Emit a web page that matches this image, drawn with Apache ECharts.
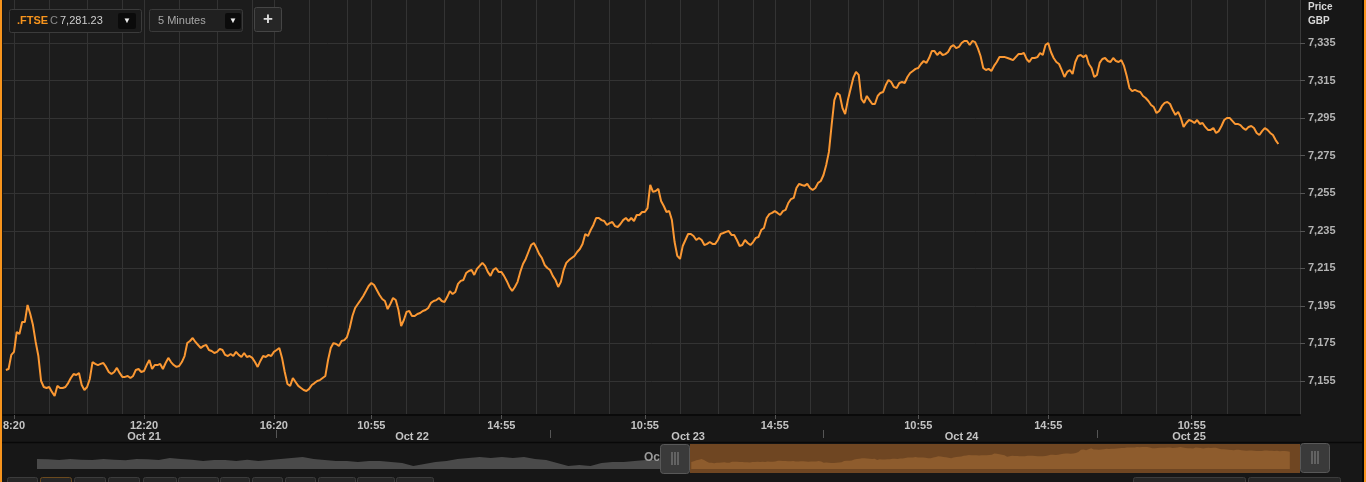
<!DOCTYPE html>
<html><head><meta charset="utf-8">
<script src="https://cdn.jsdelivr.net/npm/echarts@6/dist/echarts.min.js"></script>
<style>html,body{margin:0;padding:0;background:#171717;}#c{width:1366px;height:482px;}</style>
</head><body><div id="c"></div><script>
// ---------- data ----------
const days = ['Oct 21', 'Oct 22', 'Oct 23', 'Oct 24', 'Oct 25'];
const sessionOpen = '08:00';
const sessionClose = '16:20';
const lastDayAxisEnd = '14:15';
const firstBar = 'Oct 21 08:05';
// FTSE 100, 5-minute closes from Oct 21 08:05 to Oct 25 13:35
const prices = [
7160.9,7161.4,7168.9,7170.5,7181.1,7180.0,7186.4,7186.4,7195.5,7190.7,
7184.8,7175.8,7168.3,7155.0,7151.8,7151.3,7151.8,7149.2,7147.0,7152.4,
7151.3,7151.3,7151.8,7153.9,7156.6,7158.7,7158.2,7159.3,7152.9,7150.2,
7151.8,7156.1,7165.1,7164.1,7163.5,7164.1,7164.6,7162.5,7159.8,7158.7,
7159.8,7162.0,7159.3,7157.2,7157.2,7157.7,7156.6,7157.7,7160.9,7161.4,
7159.8,7160.3,7163.5,7166.2,7161.4,7163.5,7163.5,7164.1,7161.4,7164.6,
7167.3,7165.1,7163.5,7162.5,7163.0,7165.1,7168.3,7175.2,7176.3,7177.9,
7175.8,7174.2,7172.6,7173.7,7174.2,7171.5,7171.0,7169.9,7170.5,7172.1,
7171.5,7168.9,7168.3,7169.4,7168.3,7170.5,7168.9,7167.8,7169.9,7167.8,
7168.3,7167.3,7165.1,7162.5,7165.7,7168.3,7167.8,7168.9,7168.3,7170.5,
7171.5,7172.6,7167.3,7159.8,7153.4,7152.4,7156.6,7154.5,7152.4,7151.3,
7150.2,7149.7,7150.8,7152.9,7153.9,7155.0,7155.5,7156.6,7157.7,7166.2,
7172.6,7175.2,7174.7,7173.7,7176.3,7176.8,7178.4,7183.2,7189.6,7193.9,
7196.0,7198.1,7200.3,7202.9,7205.6,7207.2,7206.1,7203.5,7200.8,7198.7,
7197.6,7193.3,7196.0,7199.2,7198.1,7192.8,7184.3,7187.5,7191.8,7192.3,
7189.6,7189.6,7190.7,7191.2,7192.3,7192.8,7193.9,7196.6,7197.6,7198.1,
7199.2,7197.6,7197.1,7199.7,7202.9,7201.3,7202.4,7206.7,7208.3,7208.8,
7212.5,7213.6,7214.1,7211.5,7214.7,7216.3,7217.9,7216.3,7213.1,7211.0,
7214.1,7215.2,7213.1,7213.1,7211.0,7208.3,7205.1,7202.9,7205.1,7207.8,
7213.1,7217.3,7220.0,7223.7,7227.4,7228.5,7225.8,7222.6,7220.5,7216.8,
7215.2,7214.1,7211.0,7208.8,7205.1,7207.8,7214.1,7217.9,7219.4,7220.5,
7221.6,7223.7,7225.3,7228.0,7233.3,7232.2,7235.4,7238.1,7241.8,7241.8,
7240.7,7240.2,7238.1,7239.1,7239.7,7237.5,7237.0,7238.6,7240.7,7241.8,
7240.2,7241.8,7240.2,7243.4,7243.4,7245.0,7245.0,7247.1,7259.4,7255.7,
7256.2,7257.3,7250.9,7248.2,7245.0,7245.5,7240.7,7229.0,7221.6,7220.0,
7226.9,7230.1,7233.3,7233.3,7232.2,7230.1,7231.2,7230.1,7227.4,7228.0,
7229.0,7228.0,7228.0,7230.1,7233.3,7233.8,7234.4,7234.9,7232.8,7232.8,
7230.1,7226.9,7227.4,7230.1,7228.5,7227.4,7229.0,7231.2,7231.7,7235.4,
7236.5,7241.8,7243.9,7244.5,7245.5,7244.5,7243.4,7245.5,7246.1,7249.8,
7251.9,7252.5,7257.8,7260.0,7259.4,7258.9,7260.0,7257.8,7256.7,7257.8,
7260.5,7261.5,7264.7,7270.0,7277.0,7291.3,7304.6,7308.4,7307.3,7300.4,
7297.2,7304.6,7310.5,7316.4,7319.6,7318.0,7305.2,7303.1,7306.8,7304.6,
7302.5,7302.5,7306.8,7308.4,7308.9,7312.6,7315.3,7314.2,7311.6,7311.0,
7313.7,7314.2,7313.7,7316.9,7319.0,7320.1,7321.2,7321.7,7323.8,7325.4,
7324.4,7327.0,7330.7,7330.7,7328.6,7330.2,7328.6,7329.1,7330.2,7332.9,
7333.9,7332.3,7332.9,7335.0,7336.1,7336.1,7333.9,7336.1,7335.5,7332.3,
7328.1,7321.7,7320.6,7321.2,7320.1,7322.8,7324.9,7327.5,7327.5,7327.5,
7327.0,7326.5,7325.9,7327.5,7329.1,7329.1,7329.7,7326.5,7324.9,7327.0,
7327.0,7327.5,7329.7,7328.6,7333.9,7335.0,7330.2,7327.0,7324.9,7323.8,
7320.6,7316.9,7319.6,7320.6,7318.5,7324.9,7328.1,7328.6,7327.5,7328.6,
7323.8,7321.7,7316.9,7318.0,7324.4,7326.5,7327.0,7325.4,7324.9,7327.0,
7325.4,7324.9,7325.9,7322.8,7317.4,7311.0,7309.4,7310.0,7309.4,7308.9,
7306.8,7305.7,7304.1,7302.0,7300.9,7297.7,7298.8,7301.5,7303.1,7303.6,
7302.5,7299.3,7296.7,7298.3,7295.1,7290.3,7292.4,7294.0,7293.5,7292.4,
7294.0,7291.9,7292.4,7290.3,7288.7,7288.7,7289.7,7287.1,7288.1,7290.8,
7294.0,7295.1,7295.1,7293.5,7291.9,7291.9,7291.3,7289.7,7288.7,7290.3,
7290.8,7289.7,7287.1,7286.0,7288.1,7289.7,7288.7,7287.1,7286.0,7283.3,7281.23
];
const lastPrice = 7281.23;
const yTicks = [7155, 7175, 7195, 7215, 7235, 7255, 7275, 7295, 7315, 7335];
const timeLabels = ['Oct 21 08:20', 'Oct 21 12:20', 'Oct 21 16:20', 'Oct 22 10:55', 'Oct 22 14:55',
                    'Oct 23 10:55', 'Oct 23 14:55', 'Oct 24 10:55', 'Oct 24 14:55', 'Oct 25 10:55'];
const dateLabels = ['Oct 21 12:20', 'Oct 22 12:10', 'Oct 23 12:15', 'Oct 24 12:15', 'Oct 25 10:50'];
const dayStarts = ['Oct 22 08:00', 'Oct 23 08:00', 'Oct 24 08:00', 'Oct 25 08:00'];
// navigator: earlier history (coarse closes) shown before the selected window
const navHistory = [
7196,7193,7184,7197,7186,7183,7195,7186,7182,7197,7194,7185,7208,7196,7186,7173,7185,7183,7172,7186,
7174,7185,7196,7208,7219,7197,7185,7174,7172,7161,7174,7172,7160,7150,7115,7138,7161,7174,7196,7208,
7219,7207,7220,7209,7218,7196,7184,7150,7115,7126,7114,7150,7161,7162,7173,7184,7185,7196,7184,7173
];

// ---------- helpers ----------
function toMin(t) { const p = t.split(':'); return (+p[0]) * 60 + (+p[1]); }
function hhmm(m) { return String(Math.floor(m / 60)).padStart(2, '0') + ':' + String(m % 60).padStart(2, '0'); }
function comma(v, d) { const s = d ? v.toFixed(d) : String(v); const p = s.split('.'); p[0] = p[0].replace(/\B(?=(\d{3})+(?!\d))/g, ','); return p.join('.'); }

const categories = [];
days.forEach(function (d, k) {
  const end = k === days.length - 1 ? toMin(lastDayAxisEnd) : toMin(sessionClose);
  for (let m = toMin(sessionOpen); m <= end; m += 5) categories.push(d + ' ' + hhmm(m));
});
const startIdx = categories.indexOf(firstBar);
const seriesData = categories.map(function (c, i) {
  const k = i - startIdx; return (k >= 0 && k < prices.length) ? prices[k] : '-';
});
const timeIdx = timeLabels.map(function (t) { return categories.indexOf(t); });
const dateIdx = new Set(dateLabels.map(function (t) { return categories.indexOf(t); }));
const dayIdx = new Set(dayStarts.map(function (t) { return categories.indexOf(t); }));
const timeSet = new Set(timeIdx);
const gridSet = new Set();
timeIdx.forEach(function (L, k) {
  const next = k < timeIdx.length - 1 ? timeIdx[k + 1] : categories.length - 1;
  for (let j = 0; ; j++) { const g = Math.round(L + j * 13.3); if (g > next - 4) break; gridSet.add(g); }
});

const FONT = '"Liberation Sans", Arial, sans-serif';
const ORANGE = '#f7941d';

const chart = echarts.init(document.getElementById('c'), null, { renderer: 'canvas' });

const graphics = [
  { type: 'rect', z: 100, shape: { x: 0, y: 0, width: 2, height: 482 }, style: { fill: ORANGE } },
  { type: 'rect', z: 100, shape: { x: 1362, y: 0, width: 2, height: 482 }, style: { fill: '#060606' } },
  { type: 'rect', z: 100, shape: { x: 1364, y: 0, width: 2, height: 482 }, style: { fill: ORANGE } },
  { type: 'line', z: 100, shape: { x1: 2, y1: 442.5, x2: 1362, y2: 442.5 }, style: { stroke: '#080808', lineWidth: 1.5 } },
  // symbol box
  { type: 'rect', z: 100, shape: { x: 9.5, y: 9.5, width: 132, height: 23, r: 2 }, style: { fill: '#1a1a1a', stroke: '#3b3b3b', lineWidth: 1 } },
  { type: 'text', z: 101, x: 17, y: 21, style: { text: '.FTSE', fill: ORANGE, font: 'bold 11px ' + FONT, verticalAlign: 'middle' } },
  { type: 'text', z: 101, x: 50, y: 21, style: { text: 'C', fill: '#8a8a8a', font: '11px ' + FONT, verticalAlign: 'middle' } },
  { type: 'text', z: 101, x: 60, y: 21, style: { text: comma(lastPrice, 2), fill: '#cfcfcf', font: '11px ' + FONT, verticalAlign: 'middle' } },
  { type: 'rect', z: 101, shape: { x: 118, y: 13, width: 18, height: 16, r: 2 }, style: { fill: '#0b0b0b' } },
  { type: 'text', z: 102, x: 127, y: 21, style: { text: '▼', fill: '#eeeeee', font: '8px ' + FONT, align: 'center', verticalAlign: 'middle' } },
  // interval box
  { type: 'rect', z: 100, shape: { x: 149.5, y: 9.5, width: 93, height: 22, r: 2 }, style: { fill: '#202020', stroke: '#3a3a3a', lineWidth: 1 } },
  { type: 'text', z: 101, x: 158, y: 20.5, style: { text: '5 Minutes', fill: '#a8a8a8', font: '11px ' + FONT, verticalAlign: 'middle' } },
  { type: 'rect', z: 101, shape: { x: 225, y: 13, width: 16, height: 16, r: 2 }, style: { fill: '#0b0b0b' } },
  { type: 'text', z: 102, x: 233, y: 21, style: { text: '▼', fill: '#eeeeee', font: '8px ' + FONT, align: 'center', verticalAlign: 'middle' } },
  // plus button
  { type: 'rect', z: 100, shape: { x: 254.5, y: 7.5, width: 27, height: 24, r: 2 }, style: { fill: '#262626', stroke: '#454545', lineWidth: 1 } },
  { type: 'text', z: 101, x: 268, y: 19, style: { text: '+', fill: '#dddddd', font: 'bold 17px ' + FONT, align: 'center', verticalAlign: 'middle' } },
  // price header
  { type: 'text', z: 100, x: 1308, y: 7, style: { text: 'Price', fill: '#d8d8d8', font: 'bold 10px ' + FONT, verticalAlign: 'middle' } },
  { type: 'text', z: 100, x: 1308, y: 21, style: { text: 'GBP', fill: '#d8d8d8', font: 'bold 10px ' + FONT, verticalAlign: 'middle' } },
  // navigator label partially hidden by handle
  { type: 'text', z: 50, x: 644, y: 458, style: { text: 'Oct 21', fill: '#9a9a9a', font: 'bold 12px ' + FONT, verticalAlign: 'middle' } }
];
// navigator handles
[[660, 444], [1300, 443]].forEach(function (h) {
  graphics.push({ type: 'rect', z: 110, shape: { x: h[0] + 0.5, y: h[1] + 0.5, width: 29, height: 29, r: 3 }, style: { fill: '#3a3a3a', stroke: '#585858', lineWidth: 1 } });
  [-3, 0, 3].forEach(function (dx) {
    graphics.push({ type: 'line', z: 111, shape: { x1: h[0] + 15 + dx, y1: h[1] + 8, x2: h[0] + 15 + dx, y2: h[1] + 21 }, style: { stroke: '#8a8a8a', lineWidth: 1 } });
  });
});
// bottom toolbar buttons (partially visible)
[[7, 30], [40, 31], [74, 31], [108, 31], [143, 33], [178, 40], [220, 29], [252, 30], [285, 30], [318, 37], [357, 37], [396, 37], [1133, 112], [1248, 92]].forEach(function (b, i) {
  graphics.push({ type: 'rect', z: 100, shape: { x: b[0] + 0.5, y: 477.5, width: b[1], height: 12, r: 2 },
    style: { fill: '#262626', stroke: i === 1 ? '#6b4a1e' : '#3c3c3c', lineWidth: 1 } });
});

const option = {
  animation: false,
  backgroundColor: '#171717',
  graphic: graphics,
  grid: [
    { left: 3, right: 66, top: 0, bottom: 67, show: true, backgroundColor: '#1c1c1c', borderWidth: 0 },
    { left: 37, right: 676, top: 444, bottom: 13 },
    { left: 690, right: 66, top: 444, bottom: 9, show: true, backgroundColor: '#6f4622', borderWidth: 0 }
  ],
  xAxis: [
    { type: 'category', gridIndex: 0, data: categories, boundaryGap: false,
      axisLine: { show: true, lineStyle: { color: '#0a0a0a', width: 2 } },
      axisTick: { show: true, length: 4, interval: function (i) { return timeSet.has(i); }, lineStyle: { color: '#555' } },
      axisLabel: { interval: function (i) { return timeSet.has(i); }, margin: 5, color: '#c4c4c4', fontSize: 11, fontWeight: 'bold', fontFamily: FONT,
        formatter: function (v) { return v.slice(7).replace(/^0/, ''); } },
      splitLine: { show: true, interval: function (i) { return gridSet.has(i); }, lineStyle: { color: '#333333', width: 1 } } },
    { type: 'category', gridIndex: 0, data: categories, boundaryGap: false, position: 'bottom', offset: 15,
      axisLine: { show: false },
      axisTick: { show: true, length: 8, interval: function (i) { return dayIdx.has(i); }, lineStyle: { color: '#555' } },
      axisLabel: { interval: function (i) { return dateIdx.has(i); }, margin: 1, color: '#c4c4c4', fontSize: 11, fontWeight: 'bold', fontFamily: FONT,
        formatter: function (v) { return v.slice(0, 6); } },
      splitLine: { show: false } },
    { type: 'category', gridIndex: 1, data: navHistory.map(function (v, i) { return i; }), boundaryGap: false, show: false },
    { type: 'category', gridIndex: 2, data: categories, boundaryGap: false, show: false }
  ],
  yAxis: [
    { type: 'value', gridIndex: 0, position: 'right', min: 7136.9, max: 7357.9,
      axisLine: { show: true, lineStyle: { color: '#3a3a3a' } },
      axisTick: { show: true, length: 5, customValues: yTicks, lineStyle: { color: '#555' } },
      axisLabel: { customValues: yTicks, margin: 8, color: '#b4b4b4', fontSize: 11, fontWeight: 'bold', fontFamily: FONT,
        formatter: function (v) { return comma(v); } },
      splitLine: { show: true, lineStyle: { color: '#333333', width: 1 } } },
    { type: 'value', gridIndex: 1, min: 7080, max: 7370, show: false, splitLine: { show: false } },
    { type: 'value', gridIndex: 2, min: 7033.6, max: 7370, show: false, splitLine: { show: false } }
  ],
  series: [
    { type: 'line', xAxisIndex: 0, yAxisIndex: 0, data: seriesData, symbol: 'none', showSymbol: false,
      lineStyle: { color: '#fb9833', width: 2 }, z: 5,
      markLine: { silent: true, symbol: 'none', animation: false,
        lineStyle: { opacity: 0 },
        label: { show: true, position: 'end', distance: 1, formatter: function () { return comma(lastPrice, 2); },
          backgroundColor: '#f9a14a', color: '#141414', fontSize: 11, fontFamily: FONT, padding: [3, 7, 2, 6] },
        data: [{ yAxis: lastPrice }] } },
    { type: 'line', xAxisIndex: 2, yAxisIndex: 1, data: navHistory, symbol: 'none', showSymbol: false,
      lineStyle: { width: 0 }, areaStyle: { color: '#4a4a4a', opacity: 1 } },
    { type: 'line', xAxisIndex: 3, yAxisIndex: 2, data: seriesData, symbol: 'none', showSymbol: false,
      lineStyle: { width: 0 }, areaStyle: { color: '#8e5c2d', opacity: 1, origin: 7080 } }
  ]
};
chart.setOption(option);
</script></body></html>
